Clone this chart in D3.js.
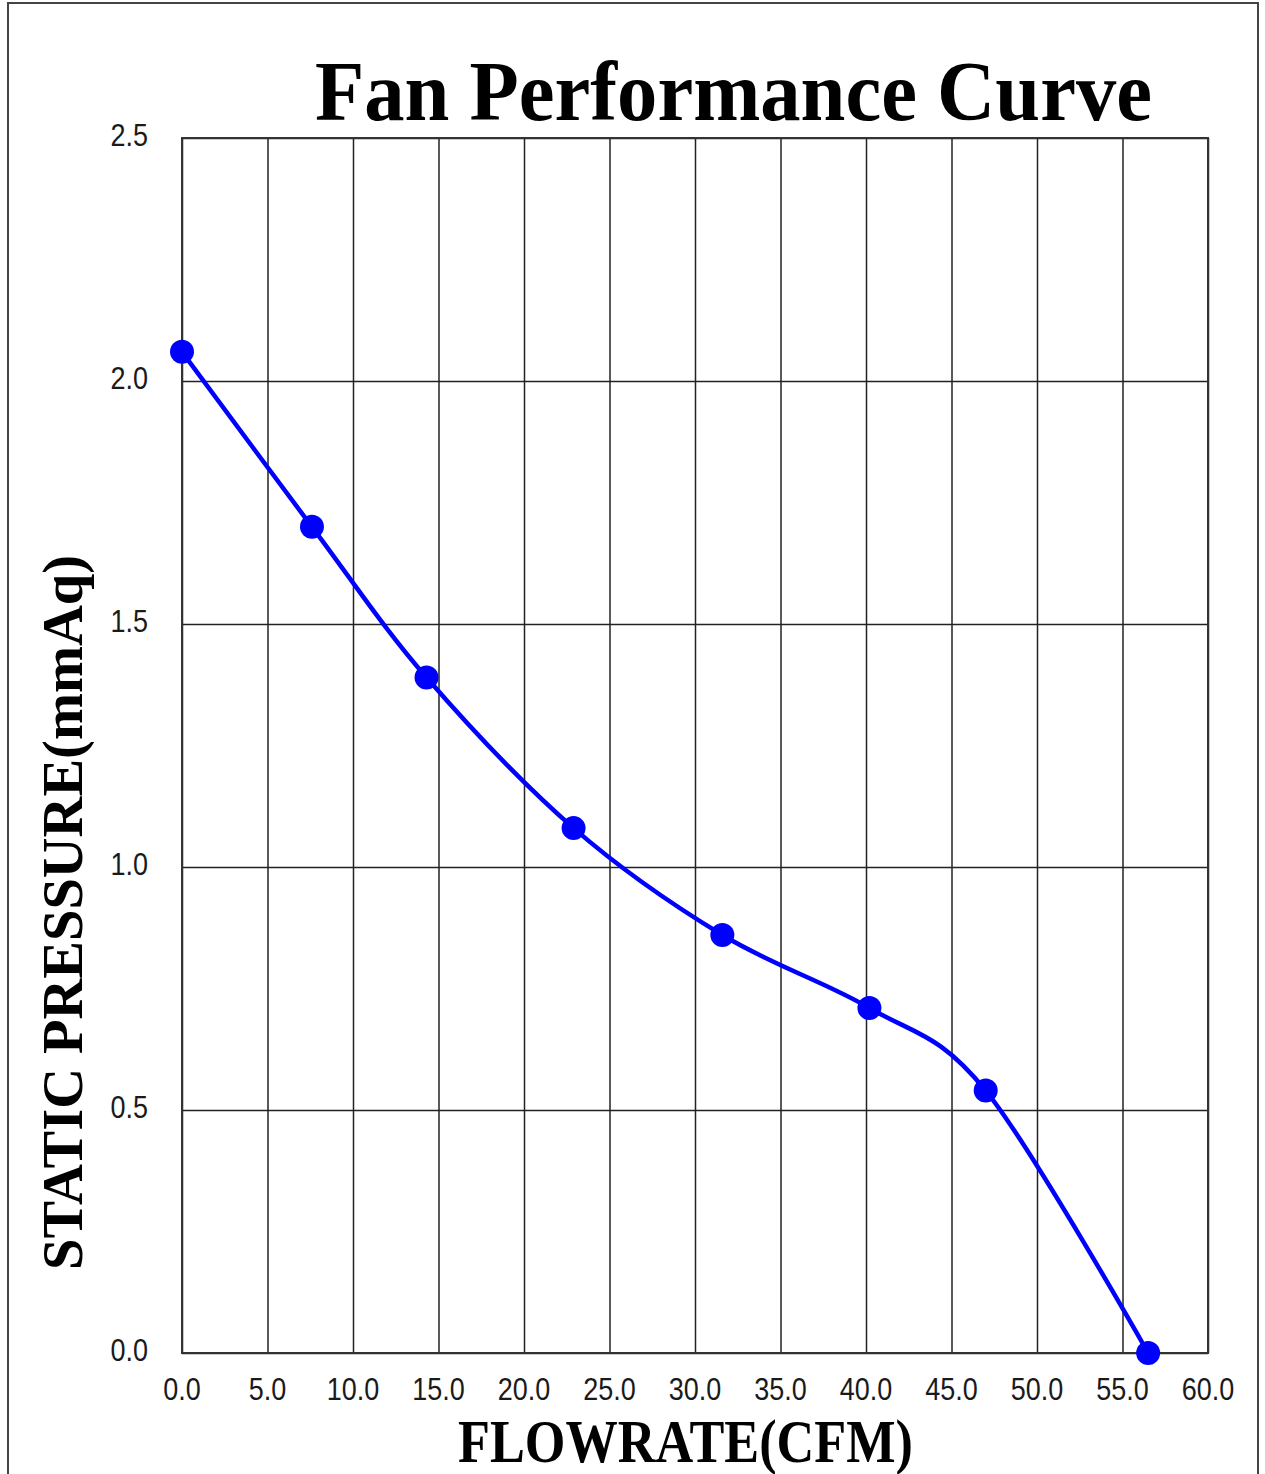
<!DOCTYPE html>
<html>
<head>
<meta charset="utf-8">
<script src="https://cdn.jsdelivr.net/npm/d3@7"></script>
<style>
  body { margin: 0; background: #fff; }
  svg { display: block; }
</style>
</head>
<body>
<div id="chart"></div>
<script>
// fan curve
let flowrate = [0.0, 7.6, 14.3, 22.9, 31.6, 40.2, 47.0, 56.5];
let pressure = [2.06, 1.70, 1.39, 1.08, 0.86, 0.71, 0.54, 0.0];
let xTicks = [0, 5, 10, 15, 20, 25, 30, 35, 40, 45, 50, 55, 60];
let yTicks = [0, 0.5, 1.0, 1.5, 2.0, 2.5];

let W = 1265, H = 1474;
let plot = { left: 182, right: 1208, top: 138, bottom: 1353 };

var svg = d3.select("#chart")
    .append("svg")
    .attr("width", W)
    .attr("height", H);

// outer frame
svg.append("rect")
    .attr("x", 8).attr("y", 3)
    .attr("width", 1250).attr("height", H + 10)
    .attr("fill", "none")
    .attr("stroke", "#444")
    .attr("stroke-width", 2);

var x = d3.scaleLinear().domain([0, 60]).range([plot.left, plot.right]);
var y = d3.scaleLinear().domain([0, 2.5]).range([plot.bottom, plot.top]);

let g = svg.append("g");

// grid
g.append("g")
    .attr("transform", "translate(0," + plot.bottom + ")")
    .call(d3.axisBottom(x).tickValues(xTicks).tickSize(-(plot.bottom - plot.top)).tickFormat(""))
    .call(s => s.select(".domain").remove())
    .selectAll("line")
    .attr("stroke", "#222")
    .attr("stroke-width", 1.5);

g.append("g")
    .attr("transform", "translate(" + plot.left + ",0)")
    .call(d3.axisLeft(y).tickValues(yTicks).tickSize(-(plot.right - plot.left)).tickFormat(""))
    .call(s => s.select(".domain").remove())
    .selectAll("line")
    .attr("stroke", "#222")
    .attr("stroke-width", 1.5);

g.append("rect")
    .attr("x", plot.left).attr("y", plot.top)
    .attr("width", plot.right - plot.left)
    .attr("height", plot.bottom - plot.top)
    .attr("fill", "none")
    .attr("stroke", "#333")
    .attr("stroke-width", 2);

// tick labels (a bit tall in the original, so stretch them)
svg.selectAll(".xlab")
    .data(xTicks)
    .enter().append("text")
    .attr("class", "xlab")
    .attr("transform", d => "translate(" + x(d) + ",1400) scale(1,1.15)")
    .attr("text-anchor", "middle")
    .style("font-family", "'Liberation Sans', Arial, sans-serif")
    .style("font-size", "27px")
    .attr("fill", "#1a1a1a")
    .text(d => d.toFixed(1));

svg.selectAll(".ylab")
    .data(yTicks)
    .enter().append("text")
    .attr("class", "ylab")
    .attr("transform", d => "translate(148," + (y(d) + 8) + ") scale(1,1.15)")
    .attr("text-anchor", "end")
    .style("font-family", "'Liberation Sans', Arial, sans-serif")
    .style("font-size", "27px")
    .attr("fill", "#1a1a1a")
    .text(d => d.toFixed(1));

// the curve
var pts = flowrate.map((f, i) => [f, pressure[i]]);

var lineFunc = d3.line()
    .x(d => x(d[0]))
    .y(d => y(d[1]))
    .curve(d3.curveCardinal.tension(0));

g.append("path")
    .attr("d", lineFunc(pts))
    .attr("fill", "none")
    .attr("stroke", "#0000ff")
    .attr("stroke-width", 4.5);

g.selectAll("circle")
    .data(pts)
    .enter().append("circle")
    .attr("cx", d => x(d[0]))
    .attr("cy", d => y(d[1]))
    .attr("r", 12)
    .attr("fill", "#0000ff");

// titles
let serif = "'Liberation Serif', 'Times New Roman', serif";

svg.append("text")
    .attr("x", 315).attr("y", 120)
    .attr("textLength", 837)
    .attr("lengthAdjust", "spacingAndGlyphs")
    .style("font-family", serif)
    .style("font-weight", "bold")
    .style("font-size", "84px")
    .text("Fan Performance Curve");

svg.append("text")
    .attr("x", 458).attr("y", 1462)
    .attr("textLength", 455)
    .attr("lengthAdjust", "spacingAndGlyphs")
    .style("font-family", serif)
    .style("font-weight", "bold")
    .style("font-size", "62px")
    .text("FLOWRATE(CFM)");

svg.append("text")
    .attr("transform", "translate(82,1270) rotate(-90)")
    .attr("textLength", 715)
    .attr("lengthAdjust", "spacingAndGlyphs")
    .style("font-family", serif)
    .style("font-weight", "bold")
    .style("font-size", "58px")
    .text("STATIC PRESSURE(mmAq)");
</script>
</body>
</html>
